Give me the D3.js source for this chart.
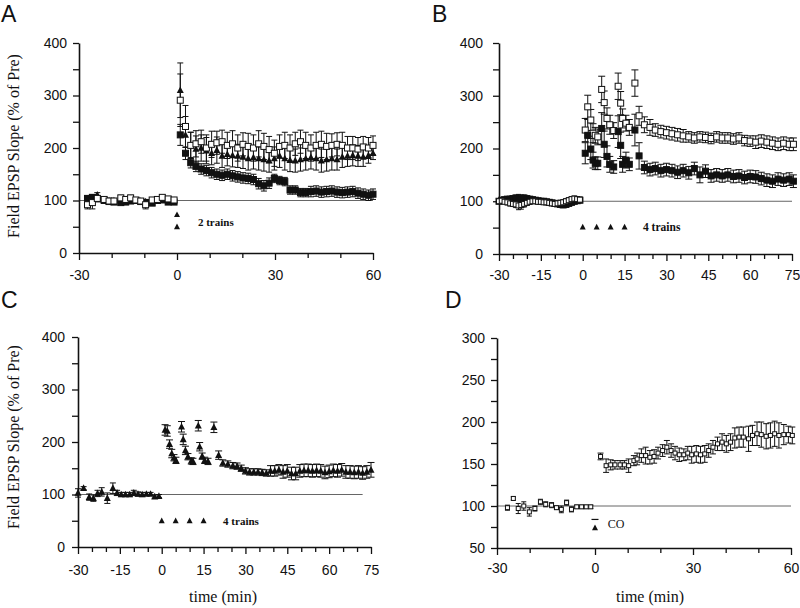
<!DOCTYPE html>
<html><head><meta charset="utf-8">
<script src="https://cdn.jsdelivr.net/npm/d3@7"></script>
<style>body{margin:0;background:#fff}</style></head>
<body>
<svg id="c" width="800" height="608"></svg>
<script>
// ---------- Panel A ----------
const aPreT = [-27.4,-25.9,-24.4,-22.3,-20.8,-19.3,-17.2,-15.7,-14.2,-12.6,-11.1,-9.6,-7.6,-6.0,-4.5,-2.7,-0.9];
const aPreOpen = [92,96,104,102,99,99,105,102,105,101,99,92,101,102,106,103,101];
const aPreOpenErr = [8,12,5,4,4,4,5,4,5,4,4,8,4,4,4,4,4];
const aPreFilled = [104,106,103,100,98,97,96,97,99,100,98,96,95,100,101,97,97];
const aPreFilledErr = [5,5,4,4,4,4,4,4,4,4,4,4,4,4,4,4,4];
const aPreTri = [100,103,111,101,100,100,101,100,101,100,99,98,100,101,103,100,100];
const aPreTriErr = [4,4,4,4,4,4,4,4,4,4,4,4,4,4,4,4,4];
const aPostT = [1,2.6,4.2,5.8,7.4,9,10.6,12.2,13.8,15.4,17,18.6,20.2,21.8,23.4,25,26.6,28.2,29.8,31.4,33,34.6,36.2,37.8,39.4,41,42.6,44.2,45.8,47.4,49,50.6,52.2,53.8,55.4,57,58.6,60];
const aPostOpen = [291,241,205,208,212,200,207,210,212,205,208,200,207,203,200,208,203,197,190,203,205,200,208,212,205,200,205,207,203,205,207,205,200,200,198,202,200,205];
const aPostOpenErr = [50,40,25,25,22,25,25,22,22,25,25,25,22,25,25,25,25,25,25,22,25,25,22,22,25,25,25,25,25,22,22,25,22,22,22,20,20,18];
const aPostTri = [310,225,205,198,200,195,190,196,185,188,186,185,183,180,182,180,178,176,180,185,180,177,176,178,180,182,180,176,178,180,178,183,185,186,185,183,186,190];
const aPostTriErr = [52,35,25,25,25,25,22,25,22,22,22,22,22,22,22,22,22,22,22,22,22,22,22,22,22,22,22,22,22,22,20,20,20,20,20,18,15,12];
const aPostFilled = [225,190,172,165,160,157,153,150,148,150,147,145,143,142,140,132,128,133,142,138,136,120,120,115,115,117,118,116,117,118,116,115,116,117,114,112,110,112];
const aPostFilledErr = [20,12,10,10,10,10,10,10,10,10,10,10,10,10,10,10,10,10,8,8,8,8,8,8,8,10,10,10,10,10,10,10,10,10,10,10,10,10];

// ---------- Panel B ----------
const bPreT = [-30,-29,-28,-27,-26,-25,-24,-23,-22,-21,-20,-19,-18,-17,-16,-15,-14,-13,-12,-11,-10,-9,-8,-7,-6,-5,-4,-3,-2,-1];
const bPreOpen = [100,101,99,98,96,95,94,92,93,95,97,99,100,100,99,99,98,98,97,96,95,96,97,98,100,102,104,105,104,103];
const bPreFilled = [100,102,103,104,104,105,106,105,104,106,105,104,103,102,101,100,100,99,98,97,96,95,94,93,94,96,98,100,101,102];
const bPreErr = [4,4,4,5,5,5,6,8,8,6,5,5,4,4,4,4,4,4,4,4,4,5,5,5,5,5,5,5,5,5];
const bPostT = [0.9,1.8,2.9,3.7,4.5,5.4,6.8,7.7,8.7,9.7,11.1,12.7,13.6,14.3,15.5,16.7,18.7,20.2,22.1,24.1,26,28,30,32,34,36,38,40,42,44,46,48,50,52,54,56,58,60,62,64,66,68,70,72,74,75.5];
const bPostOpen = [235,279,254,229,225,222,312,287,257,245,234,318,286,257,248,240,324,262,245,240,235,232,230,228,226,224,222,220,222,221,219,222,220,220,218,220,215,214,212,214,212,210,208,210,208,208];
const bPostOpenErr = [22,22,20,18,15,15,25,22,20,18,15,25,22,18,15,15,25,18,15,15,12,12,12,12,12,12,10,10,10,10,10,10,10,10,10,10,10,10,12,12,12,12,12,12,12,12];
const bPostFilled = [191,225,199,178,172,172,238,208,185,170,165,232,206,170,178,170,235,186,164,160,162,158,160,158,155,158,154,162,150,157,148,150,148,150,147,148,145,147,146,143,140,138,142,140,142,138];
const bPostFilledErr = [20,30,20,15,12,12,30,25,20,15,12,30,25,15,15,12,30,25,12,12,12,12,12,12,12,12,12,12,15,12,12,12,12,12,12,12,12,12,12,12,12,12,12,12,12,12];

// ---------- Panel C ----------
const cPreT = [-30,-28,-26,-24.5,-23,-21.5,-19.5,-17.5,-16,-14.5,-13,-11.5,-10,-8.5,-7,-5.5,-4,-2.5,-1];
const cPreV = [103,112,95,93,102,105,93,112,103,100,100,100,103,101,100,101,101,96,97];
const cPreE = [8,3,6,6,6,8,10,10,5,4,4,4,5,4,4,3,3,3,3];
const cPostT = [1.2,2.0,2.8,3.6,4.4,5.1,7.1,7.7,8.5,9.4,10.6,11.2,13.1,13.6,14.5,15.4,16.6,18.7,20.4,21.9,23.7,25.5,27,28.5,30,31.5,33,34.5,36,37.5,39,40.5,42,43.5,45,46.5,48,49.5,51,52.5,54,55.5,57,58.5,60,61.5,63,64.5,66,67.5,69,70.5,72,73.5,75];
const cPostV = [223,221,196,178,170,165,229,205,184,172,164,163,231,191,173,165,163,228,175,160,158,155,154,150,145,143,143,143,142,141,145,145,147,143,145,140,140,145,146,146,145,146,145,142,144,146,145,147,143,143,142,143,141,143,147];
const cPostE = [10,10,8,8,6,6,10,10,8,6,6,6,10,8,6,6,6,10,8,6,6,6,6,6,6,6,6,6,6,6,10,10,10,12,12,12,12,12,12,12,12,12,12,12,12,12,12,12,12,12,12,12,12,12,14];

// ---------- Panel D ----------
const dPreT = [-26.8,-25,-23.5,-21.8,-20.1,-18.4,-16.7,-15.1,-13.3,-11.8,-10.3,-8.7,-7.2,-5.6,-4.1,-2.7,-1.3];
const dPreV = [98,109,97,100,93,97,105,102,101,98,96,104,96,99,99,99,99];
const dPreE = [3,2,6,5,5,3,3,3,3,2,4,3,3,2,2,2,2];
const dPostT = [1.7,3.4,4.8,6.1,7.7,9.0,10.3,11.9,12.9,14.2,15.5,16.8,18.1,19.3,20.7,22.0,23.3,24.5,25.8,27.2,28.4,29.6,31,32.3,33.6,34.8,36.1,37.5,38.9,40.2,41.5,42.8,44.1,45.4,47,48.2,49.6,50.9,52.4,53.7,55,56.3,57.8,59.2,60.4];
const dPostV = [159,148,149,149,149,149,148,154,156,160,160,158,159,163,166,170,166,163,161,161,163,161,162,161,162,166,170,174,176,174,176,181,182,182,180,184,186,185,183,184,186,184,185,185,184];
const dPostE = [4,8,6,5,5,5,8,6,7,8,10,8,8,7,7,8,8,8,8,7,8,10,10,10,10,8,8,8,10,10,10,12,12,12,15,12,14,15,15,15,15,15,12,10,10];

// ---------- ticks / labels ----------
const yTicks400 = [0,50,100,150,200,250,300,350,400];
const yLabels400 = [0,100,200,300,400];
const yTicksD = [50,75,100,125,150,175,200,225,250,275,300];
const yLabelsD = [50,100,150,200,250,300];
const xTicks60 = [-30,-20,-10,0,10,20,30,40,50,60];
const xLabels60 = [-30,0,30,60];
const xTicks75 = [-30,-25,-20,-15,-10,-5,0,5,10,15,20,25,30,35,40,45,50,55,60,65,70,75];
const xLabels75 = [-30,-15,0,15,30,45,60,75];
const yTitle = "Field EPSP Slope (% of Pre)";
const xTitle = "time (min)";

const svg = d3.select('#c');
const SANS = "'Liberation Sans', Arial, sans-serif";
const SERIF = "'Liberation Serif', 'Times New Roman', serif";

function makePanel(p) {
  const x = d3.scaleLinear().domain(p.xDomain).range(p.xRange);
  const y = d3.scaleLinear().domain(p.yDomain).range(p.yRange);
  const g = svg.append('g');
  g.append('line')
    .attr('x1', x(p.base[0])).attr('x2', x(p.base[1]))
    .attr('y1', y(100)).attr('y2', y(100))
    .attr('stroke', '#666').attr('stroke-width', 1);

  const ya = g.append('g').attr('transform', `translate(${p.xRange[0]},0)`)
    .call(d3.axisLeft(y).tickValues(p.yTicks).tickSize(6).tickSizeOuter(0)
      .tickPadding(p.yPad).tickFormat(d => p.yLabels.includes(d) ? d : ''));
  const xa = g.append('g').attr('transform', `translate(0,${p.yRange[0]})`)
    .call(d3.axisBottom(x).tickValues(p.xTicks).tickSize(5).tickSizeOuter(0)
      .tickPadding(p.xPad).tickFormat(d => p.xLabels.includes(d) ? d : ''));
  xa.selectAll('.tick line').attr('y2', d => p.xLabels.includes(d) ? 7 : 5);
  [ya, xa].forEach(a => {
    a.select('.domain').attr('stroke', '#111').attr('stroke-width', 1.6);
    a.selectAll('.tick line').attr('stroke', '#111').attr('stroke-width', 1.3);
    a.selectAll('.tick text').attr('font-family', SANS).attr('font-size', 14).attr('fill', '#111');
  });
  return {g, x, y};
}

function errBars(P, T, V, E, cap) {
  const d = T.map((t, i) => ({t, v: V[i], e: E[i]}));
  const eg = P.g.append('g').attr('stroke', '#111').attr('stroke-width', 1);
  eg.selectAll('.v').data(d).join('line')
    .attr('x1', q => P.x(q.t)).attr('x2', q => P.x(q.t))
    .attr('y1', q => P.y(q.v - q.e)).attr('y2', q => P.y(q.v + q.e));
  eg.selectAll('.u').data(d).join('line')
    .attr('x1', q => P.x(q.t) - cap / 2).attr('x2', q => P.x(q.t) + cap / 2)
    .attr('y1', q => P.y(q.v + q.e)).attr('y2', q => P.y(q.v + q.e));
  eg.selectAll('.l').data(d).join('line')
    .attr('x1', q => P.x(q.t) - cap / 2).attr('x2', q => P.x(q.t) + cap / 2)
    .attr('y1', q => P.y(q.v - q.e)).attr('y2', q => P.y(q.v - q.e));
}

function squares(P, T, V, w, h, filled) {
  P.g.append('g').selectAll('rect').data(T.map((t, i) => ({t, v: V[i]}))).join('rect')
    .attr('x', q => P.x(q.t) - w / 2).attr('y', q => P.y(q.v) - h / 2)
    .attr('width', w).attr('height', h)
    .attr('fill', filled ? '#111' : '#fff').attr('stroke', '#111').attr('stroke-width', 1);
}

function triangles(P, T, V, s) {
  P.g.append('g').selectAll('path').data(T.map((t, i) => ({t, v: V[i]}))).join('path')
    .attr('d', q => {
      const cx = P.x(q.t), cy = P.y(q.v);
      return `M${cx},${cy - s * 0.55}L${cx + s / 2},${cy + s * 0.4}L${cx - s / 2},${cy + s * 0.4}Z`;
    })
    .attr('fill', '#111');
}

function label(txt, x, y, size, fam, weight, anchor) {
  svg.append('text').attr('x', x).attr('y', y).text(txt)
    .attr('font-family', fam).attr('font-size', size).attr('font-weight', weight || 'normal')
    .attr('text-anchor', anchor || 'start').attr('fill', '#111');
}
function yTitleAt(cx, cy) {
  svg.append('text').attr('transform', `translate(${cx},${cy}) rotate(-90)`)
    .attr('text-anchor', 'middle').attr('font-family', SERIF).attr('font-size', 16)
    .attr('fill', '#111').text(yTitle);
}

// ===== A =====
const A = makePanel({xDomain: [-30, 60], xRange: [79, 373], yDomain: [0, 400], yRange: [253, 43],
  yTicks: yTicks400, yLabels: yLabels400, xTicks: xTicks60, xLabels: xLabels60, yPad: 6, xPad: 12, base: [-30, 60]});
errBars(A, aPreT, aPreTri, aPreTriErr, 6);
errBars(A, aPreT, aPreFilled, aPreFilledErr, 6);
errBars(A, aPreT, aPreOpen, aPreOpenErr, 6);
errBars(A, aPostT, aPostFilled, aPostFilledErr, 6);
errBars(A, aPostT, aPostTri, aPostTriErr, 6);
errBars(A, aPostT, aPostOpen, aPostOpenErr, 6);
triangles(A, aPreT, aPreTri, 7);
squares(A, aPreT, aPreFilled, 6, 6, true);
squares(A, aPreT, aPreOpen, 6, 6, false);
squares(A, aPostT, aPostFilled, 6, 6, true);
triangles(A, aPostT, aPostTri, 7);
squares(A, aPostT, aPostOpen, 6, 6, false);
triangles(A, [0, 0], [73, 50], 6);
label('2 trains', A.x(6.4), A.y(59) + 4, 11, SERIF, 'bold');

// ===== B =====
const B = makePanel({xDomain: [-30, 75], xRange: [499, 792], yDomain: [0, 400], yRange: [254, 43],
  yTicks: yTicks400, yLabels: yLabels400, xTicks: xTicks75, xLabels: xLabels75, yPad: 10, xPad: 11, base: [-30, 75]});
errBars(B, bPreT, bPreFilled, bPreErr, 5);
errBars(B, bPreT, bPreOpen, bPreErr, 5);
squares(B, bPreT, bPreFilled, 6, 6, true);
squares(B, bPreT, bPreOpen, 5, 5, false);
errBars(B, bPostT, bPostOpen, bPostOpenErr, 7);
errBars(B, bPostT, bPostFilled, bPostFilledErr, 7);
squares(B, bPostT, bPostOpen, 6, 6, false);
squares(B, bPostT, bPostFilled, 6, 6, true);
triangles(B, [0, 5, 10, 15], [51, 51, 51, 51], 6);
label('4 trains', B.x(21.6), B.y(51) + 4, 11.5, SERIF, 'bold');

// ===== C =====
const C = makePanel({xDomain: [-30, 75], xRange: [78, 371], yDomain: [0, 400], yRange: [547, 337],
  yTicks: yTicks400, yLabels: yLabels400, xTicks: xTicks75, xLabels: xLabels75, yPad: 7, xPad: 13, base: [-30, 72]});
errBars(C, cPreT, cPreV, cPreE, 6);
errBars(C, cPostT, cPostV, cPostE, 7);
triangles(C, cPreT, cPreV, 7);
triangles(C, cPostT, cPostV, 7);
triangles(C, [0, 5, 10, 15], [50, 50, 50, 50], 6);
label('4 trains', C.x(22), C.y(49.5) + 4, 11, SERIF, 'bold');

// ===== D =====
const D = makePanel({xDomain: [-30, 60], xRange: [497, 791], yDomain: [50, 300], yRange: [548, 338],
  yTicks: yTicksD, yLabels: yLabelsD, xTicks: xTicks60, xLabels: xLabels60, yPad: 6, xPad: 10, base: [-30, 60]});
errBars(D, dPreT, dPreV, dPreE, 5);
errBars(D, dPostT, dPostV, dPostE, 6);
squares(D, dPreT, dPreV, 4, 4, false);
squares(D, dPostT, dPostV, 4, 4, false);
triangles(D, [0], [74], 6);
D.g.append('line').attr('x1', D.x(0) - 3.5).attr('x2', D.x(0) + 3.5)
  .attr('y1', D.y(84)).attr('y2', D.y(84)).attr('stroke', '#111').attr('stroke-width', 1.2);
label('CO', D.x(3.9), D.y(78.6) + 4, 12, SERIF);

// ===== titles and letters =====
yTitleAt(19, 146);
yTitleAt(19, 437);
label(xTitle, 223, 602, 16, SERIF, 'normal', 'middle');
label(xTitle, 650, 602, 16, SERIF, 'normal', 'middle');
label('A', 1, 22, 23, SANS);
label('B', 432, 22, 23, SANS);
label('C', 1, 308, 23, SANS);
label('D', 445, 308, 23, SANS);
</script>
</body></html>
